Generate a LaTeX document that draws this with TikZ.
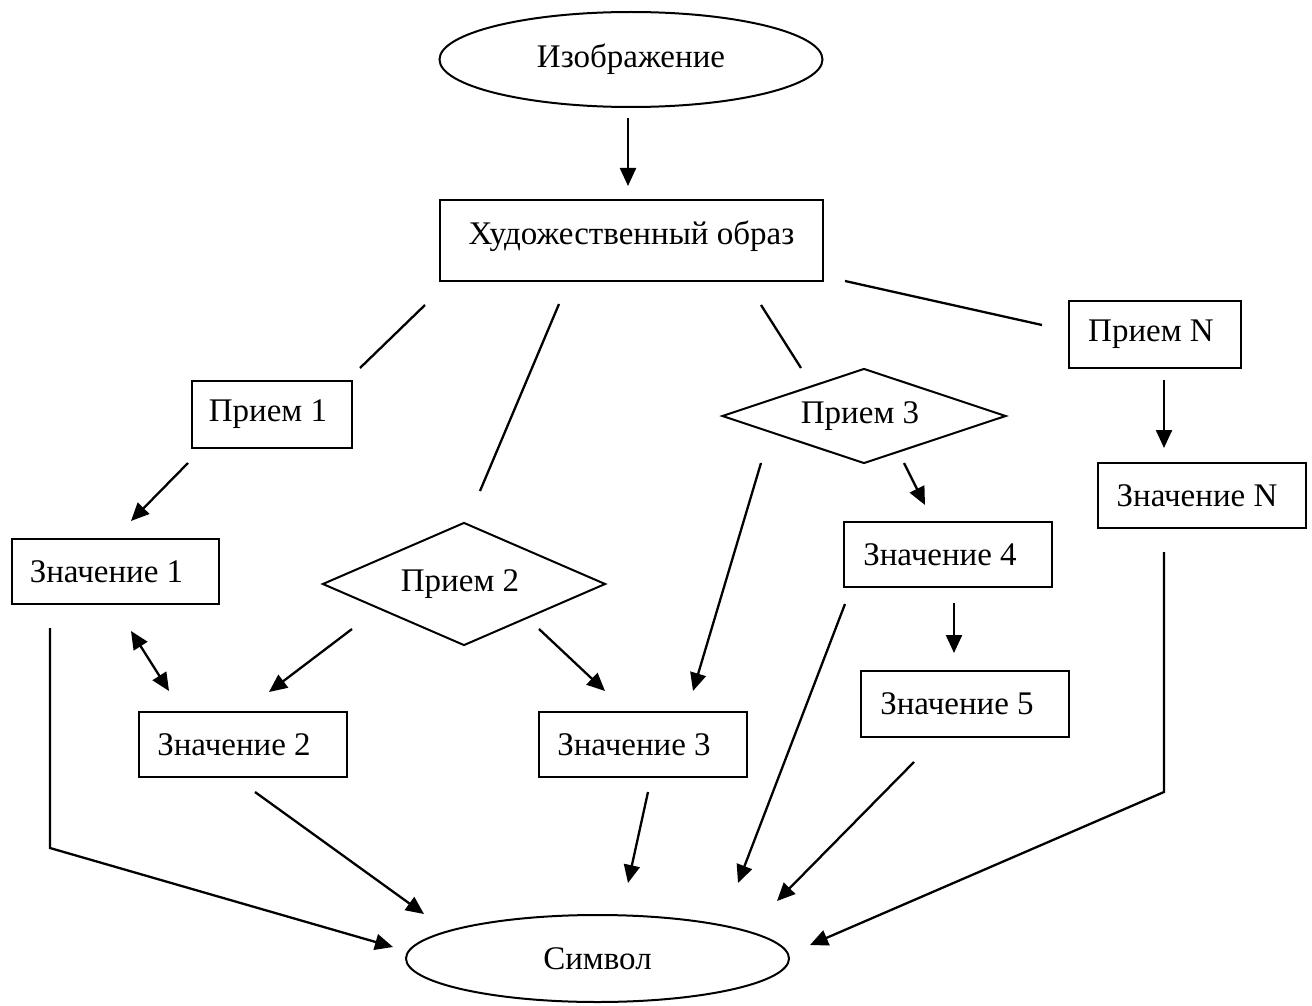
\documentclass[tikz,border=0pt]{standalone}
\usepackage{fontspec}
\setmainfont{Liberation Serif}
\usetikzlibrary{shapes.geometric,arrows.meta}

\begin{document}
\begin{tikzpicture}[x=1pt,y=-1pt,
  shp/.style={draw, line width=2pt, inner sep=0pt, font=\fontsize{33}{40}\selectfont},
  blk/.style={shp, rectangle, minimum width=208pt, minimum height=65pt},
  rhomb/.style={shp, diamond},
  oval/.style={shp, ellipse, minimum width=383pt},
  lpad/.style={execute at end node={\hspace{#1}}},
  ln/.style={line width=2.3pt},
  arr/.style={ln, -{Triangle[length=18pt,width=16pt]}}]
\fill[white] (0,0) rectangle (1312,1006);
\node[oval, minimum height=95pt] (img) at (631,59.5) {Изображение};
\node[blk, minimum width=383pt, minimum height=81pt, text depth=16pt] (hud) at (631.5,240.5) {Художественный образ};
\node[blk, minimum width=160pt, minimum height=67pt, lpad=8pt] (p1) at (272,414.5) {Прием 1};
\node[rhomb, aspect=2.3, minimum width=283pt, minimum height=123pt, lpad=8pt] (p2) at (464,584) {Прием 2};
\node[rhomb, aspect=3, minimum width=284pt, minimum height=95pt, lpad=8pt] (p3) at (864,416) {Прием 3};
\node[blk, minimum width=172pt, minimum height=67pt, lpad=8pt] (pN) at (1155,334.5) {Прием N};
\node[blk, minimum width=207pt, lpad=18pt] (z1) at (115.5,571.5) {Значение 1};
\node[blk, lpad=18pt] (z2) at (243,744.5) {Значение 2};
\node[blk, lpad=18pt] (z3) at (643,744.5) {Значение 3};
\node[blk, lpad=16pt] (z4) at (948,554.5) {Значение 4};
\node[blk, minimum height=66pt, lpad=16pt] (z5) at (965,704) {Значение 5};
\node[blk, lpad=10pt] (zN) at (1202,495.5) {Значение N};
\node[oval, minimum height=87pt] (sym) at (597.5,958.5) {Символ};
\coordinate (img-o) at (628,118);
\coordinate (hud-i) at (628,186);
\coordinate (hud-o1) at (425,305);
\coordinate (p1-i) at (360,368);
\coordinate (hud-o2) at (559,304);
\coordinate (p2-i) at (480,491);
\coordinate (hud-o3) at (761,305);
\coordinate (p3-i) at (801,368);
\coordinate (hud-o4) at (845,281);
\coordinate (pN-i) at (1042,325);
\coordinate (p1-o) at (188,463);
\coordinate (z1-i) at (131,521);
\coordinate (z1-o2) at (131,631);
\coordinate (z2-i1) at (169,691);
\coordinate (p2-o1) at (352,629);
\coordinate (z2-i2) at (269,692);
\coordinate (p2-o2) at (539,629);
\coordinate (z3-i1) at (605,691);
\coordinate (p3-o1) at (761,463);
\coordinate (z3-i2) at (693,691);
\coordinate (p3-o2) at (904,463);
\coordinate (z4-i) at (925,505);
\coordinate (pN-o) at (1164,380);
\coordinate (zN-i) at (1164,448);
\coordinate (z4-o1) at (954,603);
\coordinate (z5-i) at (954,653);
\coordinate (z1-o) at (50,628);
\coordinate (z1-k) at (50,848);
\coordinate (sym-i1) at (393,947);
\coordinate (z2-o) at (255,792);
\coordinate (sym-i2) at (424,914);
\coordinate (z3-o) at (648,792);
\coordinate (sym-i3) at (628,883);
\coordinate (z4-o2) at (845,604);
\coordinate (sym-i4) at (738,883);
\coordinate (z5-o) at (914,762);
\coordinate (sym-i5) at (777,901);
\coordinate (zN-o) at (1164,552);
\coordinate (zN-k) at (1164,792);
\coordinate (sym-i6) at (810,945);
\draw[arr] (img-o) -- (hud-i);
\draw[ln] (hud-o1) -- (p1-i);
\draw[ln] (hud-o2) -- (p2-i);
\draw[ln] (hud-o3) -- (p3-i);
\draw[ln] (hud-o4) -- (pN-i);
\draw[arr] (p1-o) -- (z1-i);
\draw[arr, {Triangle[length=18pt,width=16pt]}-{Triangle[length=18pt,width=16pt]}] (z1-o2) -- (z2-i1);
\draw[arr] (p2-o1) -- (z2-i2);
\draw[arr] (p2-o2) -- (z3-i1);
\draw[arr] (p3-o1) -- (z3-i2);
\draw[arr] (p3-o2) -- (z4-i);
\draw[arr] (pN-o) -- (zN-i);
\draw[arr] (z4-o1) -- (z5-i);
\draw[arr] (z1-o) -- (z1-k) -- (sym-i1);
\draw[arr] (z2-o) -- (sym-i2);
\draw[arr] (z3-o) -- (sym-i3);
\draw[arr] (z4-o2) -- (sym-i4);
\draw[arr] (z5-o) -- (sym-i5);
\draw[arr] (zN-o) -- (zN-k) -- (sym-i6);
\end{tikzpicture}
\end{document}
